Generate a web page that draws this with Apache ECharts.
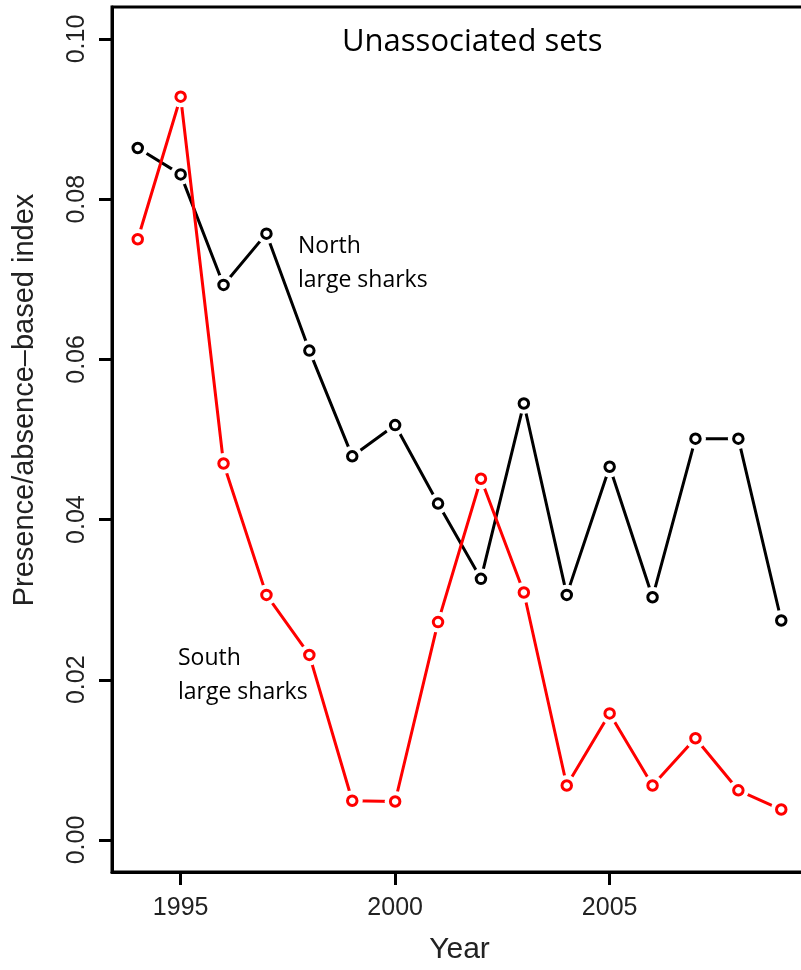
<!DOCTYPE html>
<html>
<head>
<meta charset="utf-8">
<title>Unassociated sets</title>
<script src="https://cdn.jsdelivr.net/npm/echarts@6/dist/echarts.min.js"></script>
<style>
  html, body { margin: 0; padding: 0; background: #fff; }
  #chart { width: 801px; height: 970px; }
</style>
</head>
<body>
<div id="chart"></div>
<script>
// Survey years
const years = [1994, 1995, 1996, 1997, 1998, 1999, 2000, 2001, 2002, 2003, 2004, 2005, 2006, 2007, 2008, 2009];

// Presence/absence-based index, unassociated sets
const northLarge = [0.0864, 0.0831, 0.0693, 0.0757, 0.0611, 0.0479, 0.0518, 0.0420, 0.0326, 0.0545, 0.0306, 0.0466, 0.0303, 0.0501, 0.0501, 0.0274];
const southLarge = [0.0750, 0.0928, 0.0470, 0.0306, 0.0231, 0.0049, 0.0048, 0.0272, 0.0451, 0.0309, 0.0068, 0.0158, 0.0068, 0.0127, 0.0062, 0.0038];

// Axis ticks
const xTicks = [1995, 2000, 2005];
const yTicks = [0.00, 0.02, 0.04, 0.06, 0.08, 0.10];

const pairs = (ys) => years.map((y, i) => [y, ys[i]]);

// Line with a white disc at each point so segments stop short of the markers,
// then the open circle markers on top.
function seriesFor(name, values, color, z) {
  return [
    {
      name: name,
      type: 'line',
      data: pairs(values),
      symbol: 'circle',
      symbolSize: 21,
      showSymbol: true,
      itemStyle: { color: '#fff', borderWidth: 0 },
      lineStyle: { color: color, width: 3 },
      emphasis: { disabled: true },
      silent: true,
      z: z
    },
    {
      name: name + ' points',
      type: 'scatter',
      data: pairs(values),
      symbol: 'circle',
      symbolSize: 9.5,
      itemStyle: { color: '#fff', borderColor: color, borderWidth: 3, opacity: 1 },
      emphasis: { disabled: true },
      silent: true,
      z: z + 1
    }
  ];
}

const chart = echarts.init(document.getElementById('chart'), null, { renderer: 'canvas' });

const labelFont = 'Liberation Sans, Arial, Helvetica, sans-serif';
const noteFont = 'Open Sans, Lato, sans-serif';
const axisStroke = { color: '#000', width: 3 };

chart.setOption({
  backgroundColor: '#fff',
  animation: false,
  grid: {
    left: 112, top: 7, width: 695, height: 865,
    containLabel: false,
    outerBoundsMode: 'none',
    show: true, borderColor: '#000', borderWidth: 3, backgroundColor: 'transparent'
  },
  xAxis: {
    type: 'value',
    min: 1993.4, max: 2009.6,
    position: 'bottom',
    name: 'Year',
    nameLocation: 'middle',
    nameGap: 63,
    nameTextStyle: { fontFamily: labelFont, fontSize: 30, color: '#222' },
    axisLine: { show: true, onZero: false, lineStyle: axisStroke },
    splitLine: { show: false },
    axisTick: { show: true, inside: false, length: 13, customValues: xTicks, lineStyle: axisStroke },
    axisLabel: {
      customValues: xTicks, margin: 24, fontFamily: labelFont, fontSize: 25, color: '#222',
      formatter: (v) => String(v)
    }
  },
  yAxis: {
    type: 'value',
    min: -0.004, max: 0.104,
    position: 'left',
    axisLine: { show: true, onZero: false, lineStyle: axisStroke },
    splitLine: { show: false },
    axisTick: { show: true, inside: false, length: 13, customValues: yTicks, lineStyle: axisStroke },
    axisLabel: {
      customValues: yTicks, rotate: 90, margin: 22,
      fontFamily: labelFont, fontSize: 25, color: '#222',
      formatter: (v) => v.toFixed(2)
    }
  },
  graphic: [
    {
      type: 'text', x: 25, y: 400, rotation: Math.PI / 2,
      style: {
        text: 'Presence/absence\u2013based index', font: '29px ' + labelFont, fill: '#222',
        align: 'center', verticalAlign: 'middle'
      }
    },
    { type: 'text', left: 342, top: 27, style: { text: 'Unassociated sets', font: '31px ' + noteFont, fill: '#000' } },
    { type: 'text', left: 298, top: 229, style: { text: 'North\nlarge sharks', font: '23px ' + noteFont, lineHeight: 34, fill: '#000' } },
    { type: 'text', left: 178, top: 641, style: { text: 'South\nlarge sharks', font: '23px ' + noteFont, lineHeight: 34, fill: '#000' } }
  ],
  series: [
    ...seriesFor('North large sharks', northLarge, '#000', 2),
    ...seriesFor('South large sharks', southLarge, '#ff0000', 4)
  ]
});
</script>
</body>
</html>
